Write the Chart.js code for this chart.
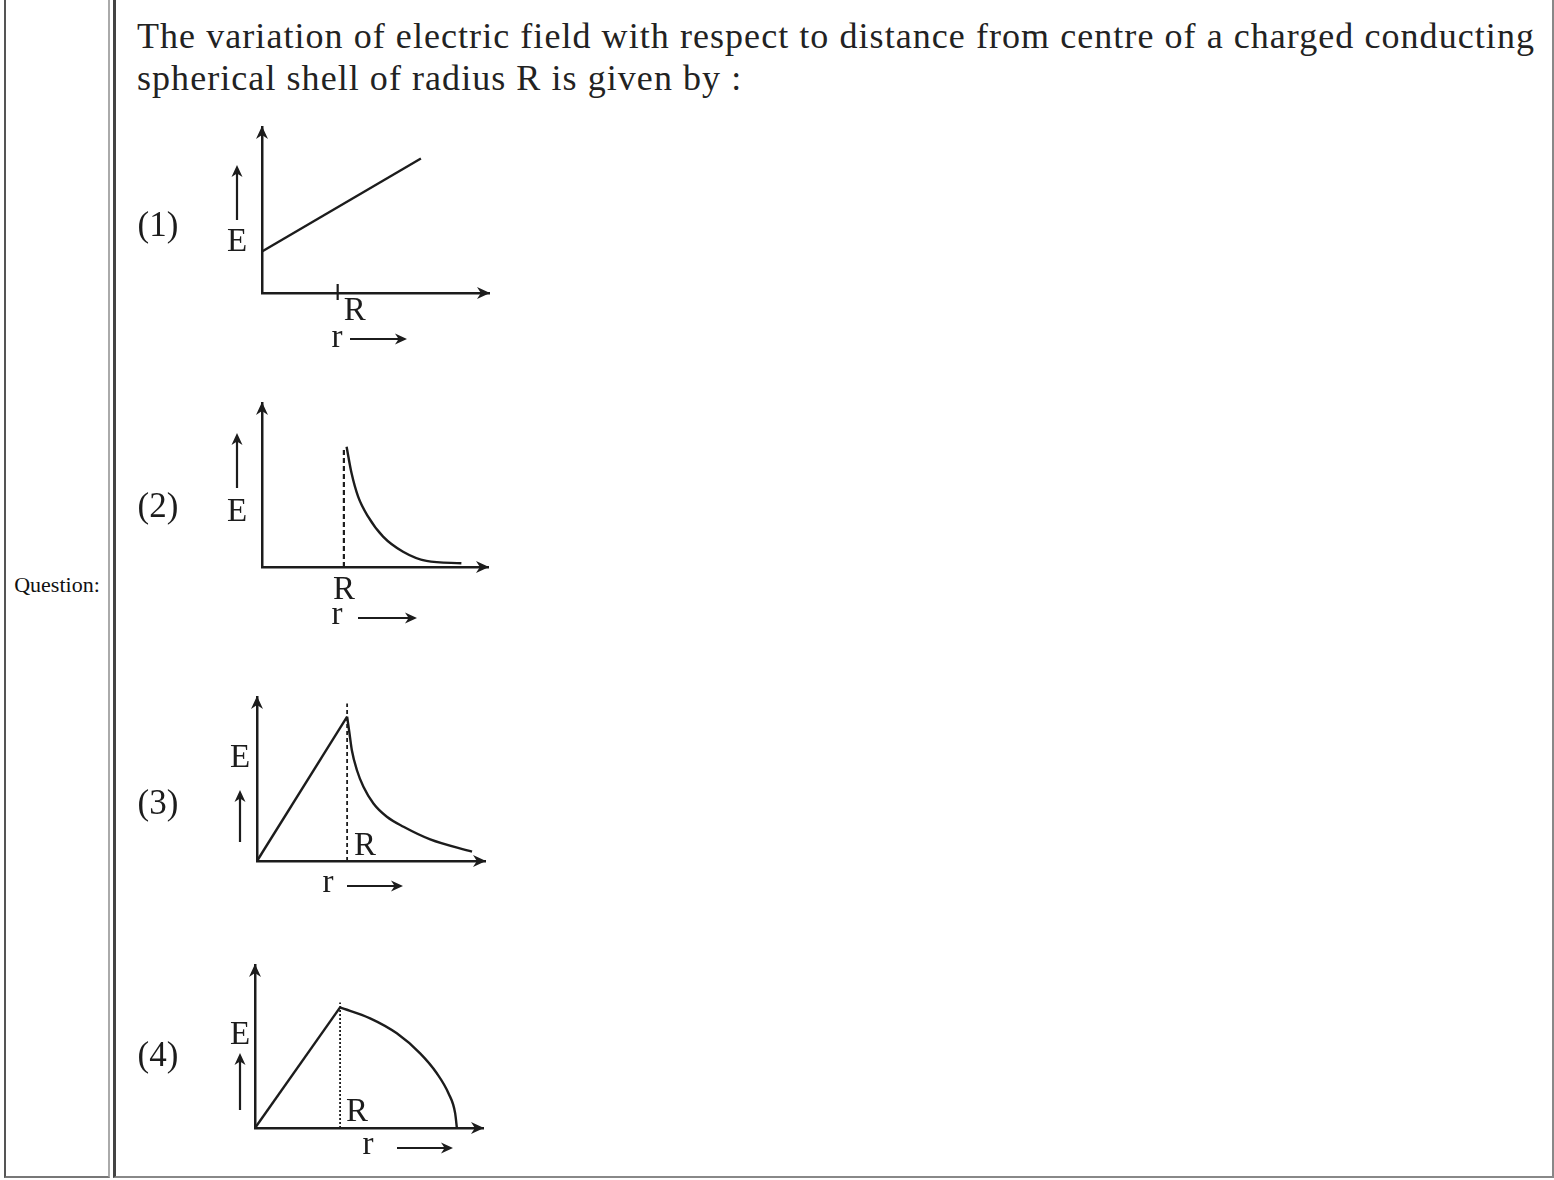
<!DOCTYPE html>
<html>
<head>
<meta charset="utf-8">
<script src="https://cdn.jsdelivr.net/npm/chart.js@4.4.1/dist/chart.umd.min.js"></script>
<style>
  html, body { margin: 0; padding: 0; background: #fff; width: 1554px; height: 1180px; overflow: hidden; position: relative; }
  .cell { position: absolute; top: -10px; height: 1188px; box-sizing: border-box; }
  #leftCell { left: 4px; width: 106px; border-left: 2px solid #555; border-right: 2px solid #aaa; border-bottom: 2px solid #777; }
  #rightCell { left: 113px; width: 1441px; border-left: 3px solid #444; border-right: 2px solid #888; border-bottom: 2px solid #888; }
  #qlabel { position: absolute; left: 4px; width: 106px; top: 573px; text-align: center; font: 22px "Liberation Serif", serif; line-height: 24px; color: #111; }
  #qtext { position: absolute; left: 137px; top: 15px; font: 36px "Liberation Serif", serif; line-height: 42px; color: #222; white-space: nowrap; }
  canvas { position: absolute; }
</style>
</head>
<body>
<div class="cell" id="leftCell"></div>
<div class="cell" id="rightCell"></div>
<div id="qlabel">Question:</div>
<div id="qtext"><span id="line1">The variation of electric field with respect to distance from centre of a charged conducting</span><br><span id="line2">spherical shell of radius R is given by :</span></div>
<canvas id="g1" width="380" height="245"></canvas>
<canvas id="g2" width="380" height="245"></canvas>
<canvas id="g3" width="380" height="215"></canvas>
<canvas id="g4" width="380" height="213"></canvas>
<script>
// r en unidades de R, E en unidades arbitrarias (eje vertical 0..10)
const rShell = 1;
const eMax = 10;
const rMax = [3.0, 2.76, 2.53, 2.68];

// grafica (1): recta
const r1Line = [0, 2.1];
const e1Line = [2.5, 8.1];

// grafica (2): cae fuera del cascaron
const r2Curve = [1.033, 1.094, 1.174, 1.296, 1.479, 1.723, 2.008, 2.435];
const e2Curve = [7.33, 5.71, 4.29, 3.07, 1.85, 0.93, 0.37, 0.23];
const r2Dash = [1, 1];
const e2Dash = [0, 7.3];

// grafica (3): sube y luego cae
const r3Line = [0, 1];
const e3Line = [0, 8.8];
const r3Curve = [1.0, 1.026, 1.052, 1.108, 1.181, 1.292, 1.441, 1.626, 1.922, 2.386];
const e3Curve = [8.8, 7.79, 6.77, 5.55, 4.53, 3.51, 2.70, 2.09, 1.32, 0.57];
const r3Dash = [1, 1];
const e3Dash = [0, 9.6];

// grafica (4): sube y luego arco
const r4Line = [0, 1];
const e4Line = [0, 7.4];
const r4Curve = [1.0, 1.353, 1.667, 1.941, 2.137, 2.274, 2.353, 2.373];
const e4Curve = [7.4, 6.73, 5.81, 4.58, 3.36, 2.13, 0.90, 0];
const r4Dash = [1, 1];
const e4Dash = [0, 7.7];

const optionLabels = ['(1)', '(2)', '(3)', '(4)'];
const eLabel = 'E';
const rLabel = 'r';
const shellLabel = 'R';

// ajustar el texto de la pregunta al ancho de la imagen
(function () {
  const l1 = document.getElementById('line1');
  const w = l1.getBoundingClientRect().width;
  const ls = (1398 - w) / l1.textContent.length;
  document.getElementById('qtext').style.letterSpacing = ls + 'px';
})();

const ink = '#1c1c1c';

function pts(xs, ys) {
  return xs.map((x, i) => ({ x: x, y: ys[i] }));
}

function arrowHead(ctx, x, y, ang, len, half) {
  ctx.save();
  ctx.translate(x, y);
  ctx.rotate(ang);
  ctx.beginPath();
  ctx.moveTo(0, 0);
  ctx.lineTo(-len, -half);
  ctx.lineTo(-len * 0.7, 0);
  ctx.lineTo(-len, half);
  ctx.closePath();
  ctx.fill();
  ctx.restore();
}

// flechas de ejes, etiquetas E, R, r y numero de opcion
const decoPlugin = {
  id: 'deco',
  afterDraw(chart, args, o) {
    const ctx = chart.ctx;
    const a = chart.chartArea;
    const ox = a.left, oy = a.bottom;
    const rx = chart.scales.x.getPixelForValue(rShell);
    ctx.save();
    ctx.fillStyle = ink;
    ctx.strokeStyle = ink;

    arrowHead(ctx, a.right + 1, oy, 0, 13, 6);
    arrowHead(ctx, ox, a.top - 1, -Math.PI / 2, 13, 6);

    ctx.lineWidth = 2.2;
    ctx.beginPath();
    ctx.moveTo(ox + o.up[0], oy + o.up[1] + 6);
    ctx.lineTo(ox + o.up[0], oy + o.up[2]);
    ctx.stroke();
    arrowHead(ctx, ox + o.up[0], oy + o.up[1], -Math.PI / 2, 12, 5.5);

    ctx.beginPath();
    ctx.moveTo(ox + o.rArrow[0], oy + o.rArrow[2]);
    ctx.lineTo(ox + o.rArrow[1] - 6, oy + o.rArrow[2]);
    ctx.stroke();
    arrowHead(ctx, ox + o.rArrow[1], oy + o.rArrow[2], 0, 12, 5.5);

    if (o.tick) {
      ctx.lineWidth = 2.2;
      ctx.beginPath();
      ctx.moveTo(rx, oy + o.tick[0]);
      ctx.lineTo(rx, oy + o.tick[1]);
      ctx.stroke();
    }

    ctx.textAlign = 'center';
    ctx.textBaseline = 'middle';
    ctx.font = '35px "Liberation Serif", serif';
    ctx.fillText(o.num, ox + o.numPos[0], oy + o.numPos[1]);
    ctx.font = '33px "Liberation Serif", serif';
    ctx.fillText(eLabel, ox + o.E[0], oy + o.E[1]);
    ctx.fillText(shellLabel, rx + o.R[0], oy + o.R[1]);
    ctx.fillText(rLabel, ox + o.r[0], oy + o.r[1]);
    ctx.restore();
  }
};

// posiciones de cada grafica en la pagina
const boxes = [
  { id: 'g1', left: 130, top: 115, ox: 262, oy: 293, tipX: 489, tipY: 127,
    deco: { numPos: [-104, -66], E: [-25, -51], up: [-25, -128, -73], R: [17, 18], r: [75, 45], rArrow: [88, 145, 46], tick: [-9, 7] } },
  { id: 'g2', left: 130, top: 390, ox: 262, oy: 567, tipX: 488, tipY: 403,
    deco: { numPos: [-104, -59], E: [-25, -55], up: [-25, -134, -79], R: [0, 23], r: [75, 48], rArrow: [96, 155, 51] } },
  { id: 'g3', left: 130, top: 685, ox: 257, oy: 861, tipX: 485, tipY: 697,
    deco: { numPos: [-99, -56], E: [-17, -103], up: [-17, -71, -19], R: [18, -15], r: [71, 22], rArrow: [90, 146, 25] } },
  { id: 'g4', left: 130, top: 952, ox: 255, oy: 1128, tipX: 483, tipY: 965,
    deco: { numPos: [-97, -71], E: [-15, -93], up: [-15, -75, -18], R: [17, -16], r: [113, 17], rArrow: [142, 198, 20] } }
];

function lineSet(data, extra) {
  return Object.assign({
    data: data,
    borderColor: ink,
    borderWidth: 2.4,
    pointRadius: 0,
    tension: 0,
    fill: false,
    clip: false
  }, extra || {});
}

const curveOpts = { cubicInterpolationMode: 'monotone' };

const datasets = [
  [lineSet(pts(r1Line, e1Line))],
  [lineSet(pts(r2Dash, e2Dash), { borderDash: [5, 3], borderWidth: 2.2 }),
   lineSet(pts(r2Curve, e2Curve), curveOpts)],
  [lineSet(pts(r3Line, e3Line)),
   lineSet(pts(r3Dash, e3Dash), { borderDash: [4, 3], borderWidth: 1.8 }),
   lineSet(pts(r3Curve, e3Curve), curveOpts)],
  [lineSet(pts(r4Line, e4Line)),
   lineSet(pts(r4Dash, e4Dash), { borderDash: [2, 2], borderWidth: 1.8 }),
   lineSet(pts(r4Curve, e4Curve), curveOpts)]
];

boxes.forEach(function (b, i) {
  const cv = document.getElementById(b.id);
  cv.style.left = b.left + 'px';
  cv.style.top = b.top + 'px';
  const deco = Object.assign({ num: optionLabels[i] }, b.deco);
  new Chart(cv.getContext('2d'), {
    type: 'line',
    data: { datasets: datasets[i] },
    options: {
      responsive: false,
      maintainAspectRatio: false,
      animation: false,
      devicePixelRatio: 1,
      events: [],
      layout: {
        padding: {
          left: b.ox - b.left,
          top: b.tipY - b.top,
          right: b.left + cv.width - b.tipX,
          bottom: b.top + cv.height - b.oy
        }
      },
      scales: {
        x: {
          type: 'linear', min: 0, max: rMax[i],
          grid: { display: false, drawTicks: false, tickLength: 0 },
          ticks: { display: false },
          border: { display: true, color: ink, width: 2.5 }
        },
        y: {
          type: 'linear', min: 0, max: eMax,
          grid: { display: false, drawTicks: false, tickLength: 0 },
          ticks: { display: false },
          border: { display: true, color: ink, width: 2.5 }
        }
      },
      plugins: {
        legend: { display: false },
        tooltip: { enabled: false },
        deco: deco
      }
    },
    plugins: [decoPlugin]
  });
});
</script>
</body>
</html>
